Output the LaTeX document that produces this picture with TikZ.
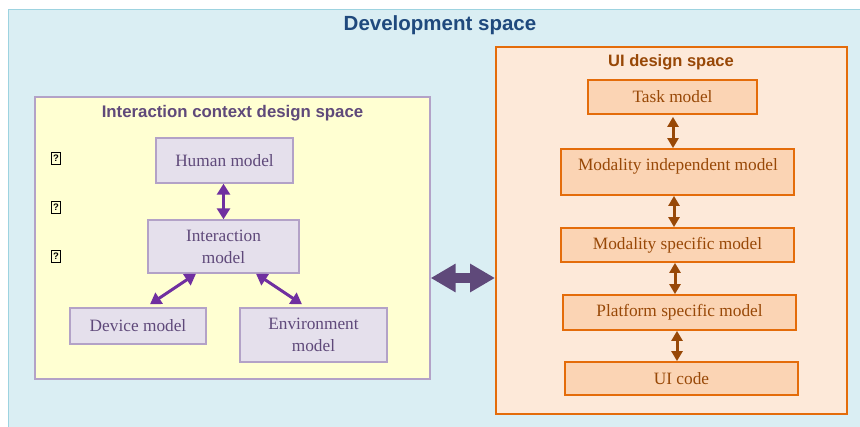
\documentclass[tikz,border=0pt]{standalone}
\usepackage{fontspec}
\setmainfont{Liberation Serif}
\newfontfamily\hd{Liberation Sans}
\usetikzlibrary{arrows.meta,calc}
\definecolor{bgblue}{HTML}{DAEEF3}
\definecolor{bgblueline}{HTML}{9DD3E0}
\definecolor{devtitle}{HTML}{1F497D}
\definecolor{yelfill}{HTML}{FFFFD2}
\definecolor{lavline}{HTML}{B3A2C7}
\definecolor{lavfill}{HTML}{E5E0EC}
\definecolor{purptext}{HTML}{5F497A}
\definecolor{purparrow}{HTML}{7030A0}
\definecolor{bigarrowc}{HTML}{5F497A}
\definecolor{orfill}{HTML}{FDE9D9}
\definecolor{orline}{HTML}{E46C0A}
\definecolor{orbox}{HTML}{FBD4B4}
\definecolor{brown}{HTML}{984807}
\tikzset{
  pbox/.style={draw=lavline, line width=1.4pt, fill=lavfill, text=purptext, inner sep=0pt, align=center,
    font=\fontsize{17.3}{22}\selectfont},
  obox/.style={draw=orline, line width=1.8pt, fill=orbox, text=brown, inner sep=0pt, align=center,
    font=\fontsize{17.3}{20}\selectfont},
  parrow/.style={draw=purparrow, line width=3pt, {Triangle[width=13pt,length=11pt]}-{Triangle[width=13pt,length=11pt]}},
  oarrow/.style={draw=brown, line width=3pt, {Triangle[width=11pt,length=10pt]}-{Triangle[width=11pt,length=10pt]}},
  tofu/.style={draw=black, line width=0.7pt, minimum width=9pt, minimum height=12pt, inner sep=0pt,
    font=\hd\fontsize{9.5}{9.5}\selectfont\bfseries},
}
\begin{document}
\begin{tikzpicture}[x=1pt,y=-1pt]
\useasboundingbox (0,0) rectangle (860,427);
\fill[white] (0,0) rectangle (860,427);
% outer development space
\node[draw=bgblueline, line width=1.2pt, fill=bgblue, minimum width=860pt, minimum height=425pt, inner sep=0pt, anchor=north west] (dev) at (8,9) {};
\node[text=devtitle, font=\hd\bfseries\fontsize{20.5}{24}\selectfont] (devt) at (440,25) {Development space};
% interaction context design space
\node[draw=lavline, line width=1.4pt, fill=yelfill, minimum width=395pt, minimum height=282pt, inner sep=0pt] (yellow) at (232.5,238) {};
\node[text=purptext, font=\hd\bfseries\fontsize{16.8}{19}\selectfont] (yt) at (232.5,113) {Interaction context design space};
\node[tofu] (t1) at (56,158) {?};
\node[tofu] (t2) at (56,207) {?};
\node[tofu] (t3) at (56,256) {?};
\node[pbox, minimum width=137pt, minimum height=45pt] (human) at (224.5,160.5) {Human model};
\node[pbox, minimum width=151pt, minimum height=53pt] (inter) at (223.5,246.5) {Interaction\\model};
\node[pbox, minimum width=136pt, minimum height=36pt] (device) at (138,326) {Device model};
\node[pbox, minimum width=147pt, minimum height=54pt] (env) at (313.5,335) {Environment\\model};
\draw[parrow] (human.south -| inter.north) -- (inter.north);
\draw[parrow] ([xshift=-27.5pt]inter.south) -- ([xshift=12pt,yshift=3pt]device.north);
\draw[parrow] ([xshift=32.5pt]inter.south) -- ([xshift=-11.5pt,yshift=3pt]env.north);
% UI design space
\node[draw=orline, line width=2pt, fill=orfill, minimum width=351pt, minimum height=367pt, inner sep=0pt] (orange) at (671.5,230.5) {};
\node[text=brown, font=\hd\bfseries\fontsize{16.5}{19}\selectfont] (ot) at (671,62) {UI design space};
\node[obox, minimum width=169pt, minimum height=34pt] (task) at (672.5,97) {Task model};
\node[obox, minimum width=233pt, minimum height=46pt] (mim) at (677.5,172) {};
\node[text=brown, font=\fontsize{17.3}{20}\selectfont] (mimt) at (678,166) {Modality independent model};
\node[obox, minimum width=233pt, minimum height=34pt] (msm) at (677.5,245) {Modality specific model};
\node[obox, minimum width=233pt, minimum height=35pt] (psm) at (679.5,312.5) {Platform specific model};
\node[obox, minimum width=233pt, minimum height=33pt] (ui) at (681.5,378.5) {UI code};
\draw[oarrow] ([xshift=0.5pt,yshift=-2pt]task.south) -- ([xshift=-4.5pt]mim.north);
\draw[oarrow] ([xshift=-3.5pt]mim.south) -- ([xshift=-3.5pt]msm.north);
\draw[oarrow] ([xshift=-2.5pt]msm.south) -- ([xshift=-4.5pt]psm.north);
\draw[oarrow] ([xshift=-2.5pt]psm.south) -- ([xshift=-4.5pt]ui.north);
% big arrow
\draw[draw=bigarrowc, line width=10pt, {Triangle[width=27pt,length=25pt]}-{Triangle[width=27pt,length=25pt]}]
  ([yshift=-40pt]yellow.east) -- ([yshift=-40pt]yellow.east -| orange.west);
\end{tikzpicture}
\end{document}
